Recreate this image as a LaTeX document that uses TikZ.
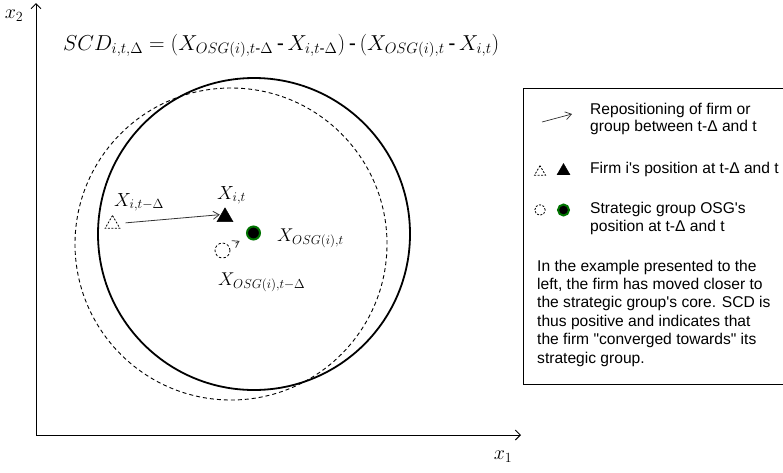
\documentclass[tikz,border=0pt]{standalone}
\usepackage{fix-cm}
\usepackage{amsmath}
\usepackage[no-math]{fontspec}
\setmainfont{Liberation Sans}[Ligatures=TeXOff]
\usetikzlibrary{arrows.meta,shapes.geometric}
\begin{document}
\begin{tikzpicture}[x=1pt,y=-1pt,
  axisline/.style={line width=1pt,-{Straight Barb[length=5pt,width=10pt]}},
  mover/.style={draw=black!80,line width=0.8pt,-{Straight Barb[length=6pt,width=8pt]}},
  tri/.style={regular polygon,regular polygon sides=3,inner sep=0pt},
  oldtri/.style={tri,draw,dashed,line width=0.8pt,dash pattern=on 2pt off 1.5pt},
  newtri/.style={tri,draw,fill=black},
  oldgrp/.style={circle,draw,line width=0.8pt,dash pattern=on 2.5pt off 2pt,inner sep=0pt},
  newgrp/.style={circle,draw=green!45!black,fill=black,line width=2pt,inner sep=0pt},
  lab/.style={anchor=base west,inner sep=0pt,font=\fontsize{19}{22}\selectfont},
  legtext/.style={anchor=base west,inner sep=0pt,font=\fontsize{15.6}{18.4}\selectfont}
]
\useasboundingbox (0,0) rectangle (783,472);

% axes
\coordinate (O) at (36,435);
\coordinate (ytop) at (36,3);
\coordinate (xend) at (521,435);
\draw[axisline] (O) -- (ytop);
\draw[axisline] (O) -- (xend);
\node[font=\fontsize{20}{24}\selectfont] (xtwo) at (14,16) {$x_2$};
\node[font=\fontsize{20}{24}\selectfont] (xone) at (503,457) {$x_1$};

% formula
\node[anchor=base west,inner sep=0pt,font=\fontsize{21.6}{26}\selectfont] (eq) at (63,50)
 {$SCD_{i,t,\Delta} = (X_{OSG(i),t\text{-}\Delta} \,\text{-}\, X_{i,t\text{-}\Delta}) \,\text{-}\, (X_{OSG(i),t} \,\text{-}\, X_{i,t})$};

% circles
\draw[line width=0.9pt,dash pattern=on 4pt off 3pt] (231,244) circle [radius=156pt];
\draw[line width=1.8pt] (254,234) circle [radius=156pt];

% firm
\node[oldtri,minimum size=17pt] (ti0) at (112.5,224) {};
\node[newtri,minimum size=18.5pt] (ti1) at (225,217) {};
\draw[mover,shorten <=8pt,shorten >=1pt] (ti0) -- (ti1.side 1);
\node[lab] (lti0) at (114,206) {$X_{i,t-\Delta}$};
\node[lab] (lti1) at (217,199) {$X_{i,t}$};

% group
\node[oldgrp,minimum size=15pt] (c0) at (222.5,250.5) {};
\node[newgrp,minimum size=13pt] (c1) at (253.5,233) {};
\draw[mover,shorten <=7pt,shorten >=8.5pt] (c0) -- (c1);
\node[lab,font=\fontsize{18.5}{22}\selectfont] (lc1) at (277,241) {$X_{OSG(i),t}$};
\node[lab,font=\fontsize{18.5}{22}\selectfont] (lc0) at (218,285) {$X_{OSG(i),t-\Delta}$};

% legend
\draw[line width=0.8pt] (790,88) -- (523,88) -- (523,384) -- (790,384);
\coordinate (la0) at (542,122);
\coordinate (la1) at (572,114);
\draw[draw=black!80,line width=0.7pt,-{Straight Barb[length=6pt,width=8pt]}] (la0) -- (la1);
\node[legtext] (t1) at (590,114) {Repositioning of firm or};
\node[legtext] (t2) at (590,131) {group between t-Δ and t};

\node[oldtri,minimum size=12.7pt] (lt0) at (540,172) {};
\node[newtri,minimum size=15pt] (lt1) at (563.5,171) {};
\node[legtext] (t3) at (590,173) {Firm i's position at t-Δ and t};

\node[oldgrp,minimum size=10.5pt,dash pattern=on 2pt off 1.5pt] (lc0g) at (540,210) {};
\node[newgrp,minimum size=11pt] (lc1g) at (563.5,210) {};
\node[legtext] (t4) at (590,213) {Strategic group OSG's};
\node[legtext] (t5) at (590,231) {position at t-Δ and t};

\node[legtext] (p1) at (537,271) {In the example presented to the};
\node[legtext] (p2) at (537,289.4) {left, the firm has moved closer to};
\node[legtext] (p3) at (537,307.8) {the strategic group's core. SCD is};
\node[legtext] (p4) at (537,326.2) {thus positive and indicates that};
\node[legtext] (p5) at (537,344.6) {the firm "converged towards" its};
\node[legtext] (p6) at (537,363) {strategic group.};
\end{tikzpicture}
\end{document}
